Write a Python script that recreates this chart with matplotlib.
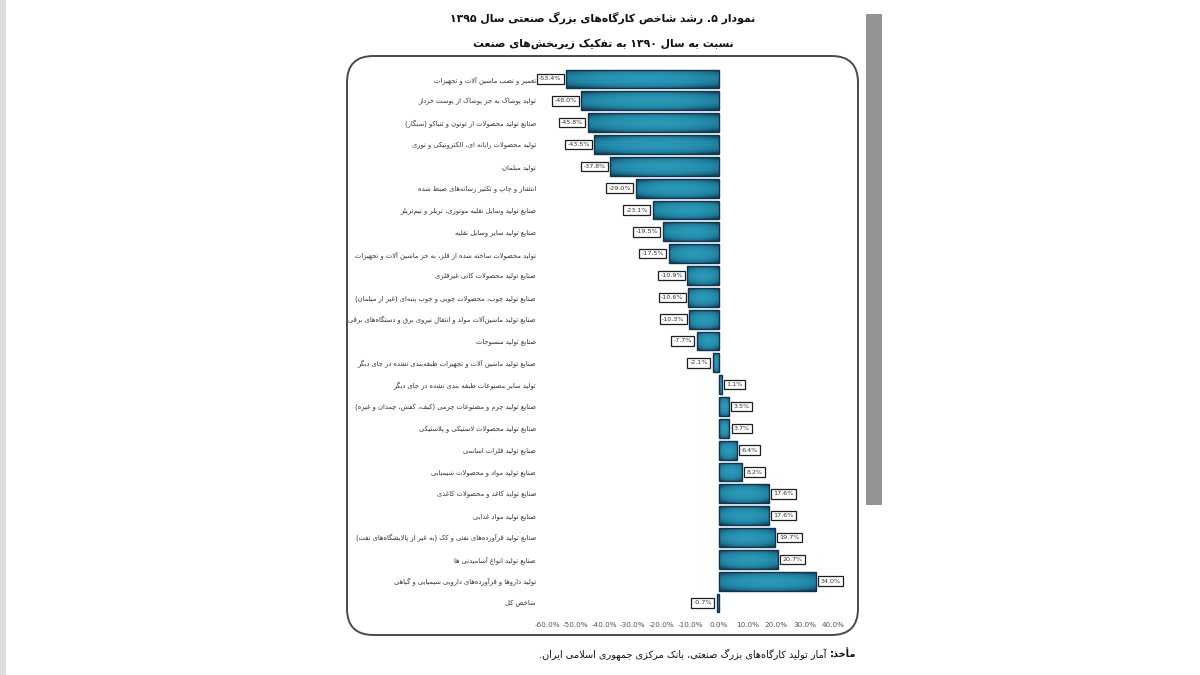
import re
import numpy as np
import matplotlib
matplotlib.use("Agg")
import matplotlib.pyplot as plt
from matplotlib.patches import FancyBboxPatch, Rectangle
from matplotlib.colors import LinearSegmentedColormap

# data (top to bottom)
categories = [
    "تعمیر و نصب ماشین آلات و تجهیزات",
    "تولید پوشاک به جز پوشاک از پوست خزدار",
    "صنایع تولید محصولات از توتون و تنباکو (سیگار)",
    "تولید محصولات رایانه ای، الکترونیکی و نوری",
    "تولید مبلمان",
    "انتشار و چاپ و تکثیر رسانه‌های ضبط شده",
    "صنایع تولید وسایل نقلیه موتوری، تریلر و نیم‌تریلر",
    "صنایع تولید سایر وسایل نقلیه",
    "تولید محصولات ساخته شده از فلز، به جز ماشین آلات و تجهیزات",
    "صنایع تولید محصولات کانی غیرفلزی",
    "صنایع تولید چوب، محصولات چوبی و چوب پنبه‌ای (غیر از مبلمان)",
    "صنایع تولید ماشین‌آلات مولد و انتقال نیروی برق و دستگاه‌های برقی",
    "صنایع تولید منسوجات",
    "صنایع تولید ماشین آلات و تجهیزات طبقه‌بندی نشده در جای دیگر",
    "تولید سایر مصنوعات طبقه بندی نشده در جای دیگر",
    "صنایع تولید چرم و مصنوعات چرمی (کیف، کفش، چمدان و غیره)",
    "صنایع تولید محصولات لاستیکی و پلاستیکی",
    "صنایع تولید فلزات اساسی",
    "صنایع تولید مواد و محصولات شیمیایی",
    "صنایع تولید کاغذ و محصولات کاغذی",
    "صنایع تولید مواد غذایی",
    "صنایع تولید فرآورده‌های نفتی و کک (به غیر از پالایشگاه‌های نفت)",
    "صنایع تولید انواع آشامیدنی ها",
    "تولید داروها و فرآورده‌های دارویی شیمیایی و گیاهی",
    "شاخص کل",
]
growth = [-53.4, -48.0, -45.8, -43.5, -37.8, -29.0, -23.1, -19.5, -17.5, -10.9,
          -10.6, -10.3, -7.7, -2.1, 1.1, 3.5, 3.7, 6.4, 8.2, 17.6,
          17.6, 19.7, 20.7, 34.0, -0.7]
xticks = [-60, -50, -40, -30, -20, -10, 0, 10, 20, 30, 40]

title1 = "نمودار ۵. رشد شاخص کارگاه‌های بزرگ صنعتی سال ۱۳۹۵"
title2 = "نسبت به سال ۱۳۹۰ به تفکیک زیربخش‌های صنعت"
source_head = "مأخذ:"
source_body = "آمار تولید کارگاه‌های بزرگ صنعتی، بانک مرکزی جمهوری اسلامی ایران."

# --- tiny persian shaper (matplotlib has no complex text layout) ---
def _r(a, b):
    return tuple(chr(c) for c in range(a, b + 1))

FORMS = {
    "ء": _r(0xFE80, 0xFE80), "آ": _r(0xFE81, 0xFE82), "أ": _r(0xFE83, 0xFE84),
    "ؤ": _r(0xFE85, 0xFE86), "إ": _r(0xFE87, 0xFE88), "ئ": _r(0xFE89, 0xFE8C),
    "ا": _r(0xFE8D, 0xFE8E), "ب": _r(0xFE8F, 0xFE92), "ة": _r(0xFE93, 0xFE94),
    "ت": _r(0xFE95, 0xFE98), "ث": _r(0xFE99, 0xFE9C), "ج": _r(0xFE9D, 0xFEA0),
    "ح": _r(0xFEA1, 0xFEA4), "خ": _r(0xFEA5, 0xFEA8), "د": _r(0xFEA9, 0xFEAA),
    "ذ": _r(0xFEAB, 0xFEAC), "ر": _r(0xFEAD, 0xFEAE), "ز": _r(0xFEAF, 0xFEB0),
    "س": _r(0xFEB1, 0xFEB4), "ش": _r(0xFEB5, 0xFEB8), "ص": _r(0xFEB9, 0xFEBC),
    "ض": _r(0xFEBD, 0xFEC0), "ط": _r(0xFEC1, 0xFEC4), "ظ": _r(0xFEC5, 0xFEC8),
    "ع": _r(0xFEC9, 0xFECC), "غ": _r(0xFECD, 0xFED0), "ف": _r(0xFED1, 0xFED4),
    "ق": _r(0xFED5, 0xFED8), "ك": _r(0xFED9, 0xFEDC), "ل": _r(0xFEDD, 0xFEE0),
    "م": _r(0xFEE1, 0xFEE4), "ن": _r(0xFEE5, 0xFEE8), "ه": _r(0xFEE9, 0xFEEC),
    "و": _r(0xFEED, 0xFEEE), "ى": _r(0xFEEF, 0xFEF0), "ي": _r(0xFEF1, 0xFEF4),
    "پ": _r(0xFB56, 0xFB59), "چ": _r(0xFB7A, 0xFB7D), "ژ": _r(0xFB8A, 0xFB8B),
    "ک": _r(0xFB8E, 0xFB91), "گ": _r(0xFB92, 0xFB95), "ی": _r(0xFBFC, 0xFBFF),
}
LAM_ALEF = {"ا": ("\uFEFB", "\uFEFC"), "آ": ("\uFEF5", "\uFEF6"),
            "أ": ("\uFEF7", "\uFEF8"), "إ": ("\uFEF9", "\uFEFA")}
MIRROR = {"(": ")", ")": "("}


def dual(c):
    return c in FORMS and len(FORMS[c]) == 4


def shape(text):
    out = []
    n = len(text)
    i = 0
    while i < n:
        c = text[i]
        prev = text[i - 1] if i > 0 else ""
        jp = dual(prev)
        if c == "ل" and i + 1 < n and text[i + 1] in LAM_ALEF:
            out.append(LAM_ALEF[text[i + 1]][1 if jp else 0])
            i += 2
            continue
        if c in FORMS:
            nxt = text[i + 1] if i + 1 < n else ""
            jn = dual(c) and nxt in FORMS
            f = FORMS[c]
            if jp and jn:
                out.append(f[3])
            elif jp:
                out.append(f[1])
            elif jn:
                out.append(f[2])
            else:
                out.append(f[0])
        elif c != "\u200c":
            out.append(c)
        i += 1
    s = "".join(out)
    # visual order: reverse, keep number runs left to right
    tokens = re.findall(r"[0-9۰-۹A-Za-z]+(?:[.,][0-9۰-۹]+)*%?|.", s)
    tokens = [MIRROR.get(t, t) for t in tokens[::-1]]
    return "".join(tokens)


plt.rcParams["font.family"] = ["DejaVu Sans"]

W, H = 1200, 675
fig = plt.figure(figsize=(12, 6.75), dpi=100)
fig.patch.set_facecolor("white")


def fx(px):
    return px / W


def fy(py):
    return 1 - py / H


# backdrop strip on the right (blurred page edge)
fig.add_artist(Rectangle((fx(866), fy(505)), fx(16), (505 - 14) / H,
                         transform=fig.transFigure, facecolor="#7a7a7a",
                         edgecolor="none", alpha=0.8, zorder=0))
fig.add_artist(Rectangle((0, 0), fx(6), 1, transform=fig.transFigure,
                         facecolor="#dddddd", edgecolor="none", zorder=0))

# rounded frame
fig.add_artist(FancyBboxPatch((fx(347), fy(635)), fx(858 - 347), (635 - 56) / H,
                              boxstyle="round,pad=0,rounding_size=0.022",
                              transform=fig.transFigure, facecolor="white",
                              edgecolor="#4a4a4a", linewidth=1.4, zorder=1,
                              mutation_aspect=W / H))

n = len(categories)
row = (603 - 79) / (n - 1)
top_px = 79 - row / 2
bot_px = 603 + row / 2
ax = fig.add_axes([fx(547), fy(bot_px), fx(833 - 547), (bot_px - top_px) / H])
ax.set_zorder(2)
ax.patch.set_alpha(0)

y = np.arange(n)
bars = ax.barh(y, growth, height=0.86, color="#2088a8", edgecolor="#18304a",
               linewidth=1.0, zorder=3)

cmap = LinearSegmentedColormap.from_list("tealbar", ["#0e465d", "#18708e", "#2289a8", "#2a98b7"])
gy, gx = np.mgrid[-1:1:40j, -1:1:80j]
grad = np.clip(1 - 0.7 * gy ** 2 - 0.45 * gx ** 2, 0, 1)
for b in bars:
    x0, w = b.get_x(), b.get_width()
    yb, h = b.get_y(), b.get_height()
    im = ax.imshow(grad, cmap=cmap, vmin=0, vmax=1,
                   extent=(min(x0, x0 + w), max(x0, x0 + w), yb + h, yb),
                   aspect="auto", interpolation="bilinear", zorder=3.5)
    im.set_clip_path(b)
    b.set_facecolor("none")
    b.set_zorder(4)

for yi, v in zip(y, growth):
    if v < 0:
        ax.text(v - 1.6, yi, f"{v:.1f}%", ha="right", va="center", fontsize=4.6,
                color="#333333", zorder=5,
                bbox=dict(boxstyle="square,pad=0.35", facecolor="white",
                          edgecolor="#1e1e1e", linewidth=0.9))
    else:
        ax.text(v + 1.6, yi, f"{v:.1f}%", ha="left", va="center", fontsize=4.6,
                color="#333333", zorder=5,
                bbox=dict(boxstyle="square,pad=0.35", facecolor="white",
                          edgecolor="#1e1e1e", linewidth=0.9))

ax.set_xlim(-60, 40)
ax.set_ylim(n - 0.5, -0.5)
ax.set_xticks(xticks)
ax.set_xticklabels([f"{t:.1f}%" for t in xticks], fontsize=5.2, color="#555555")
ax.set_yticks(y)
ax.set_yticklabels([shape(c) for c in categories], fontsize=4.9, color="#333333")
ax.tick_params(axis="both", length=0)
ax.tick_params(axis="y", pad=8)
ax.tick_params(axis="x", pad=6)
for s in ax.spines.values():
    s.set_visible(False)

# titles and source
fig.text(fx(603), fy(18), shape(title1), ha="center", va="center",
         fontsize=7.8, fontweight="bold", color="#111111")
fig.text(fx(603), fy(44), shape(title2), ha="center", va="center",
         fontsize=7.8, fontweight="bold", color="#111111")
head = fig.text(fx(856), fy(655), shape(source_head), ha="right", va="center",
                fontsize=7, fontweight="bold", color="#111111")
fig.canvas.draw()
bb = head.get_window_extent()
fig.text(bb.x0 / W - fx(3), fy(655), shape(source_body), ha="right", va="center",
         fontsize=7, color="#111111")

fig.savefig("out.png", dpi=100, facecolor="white")
